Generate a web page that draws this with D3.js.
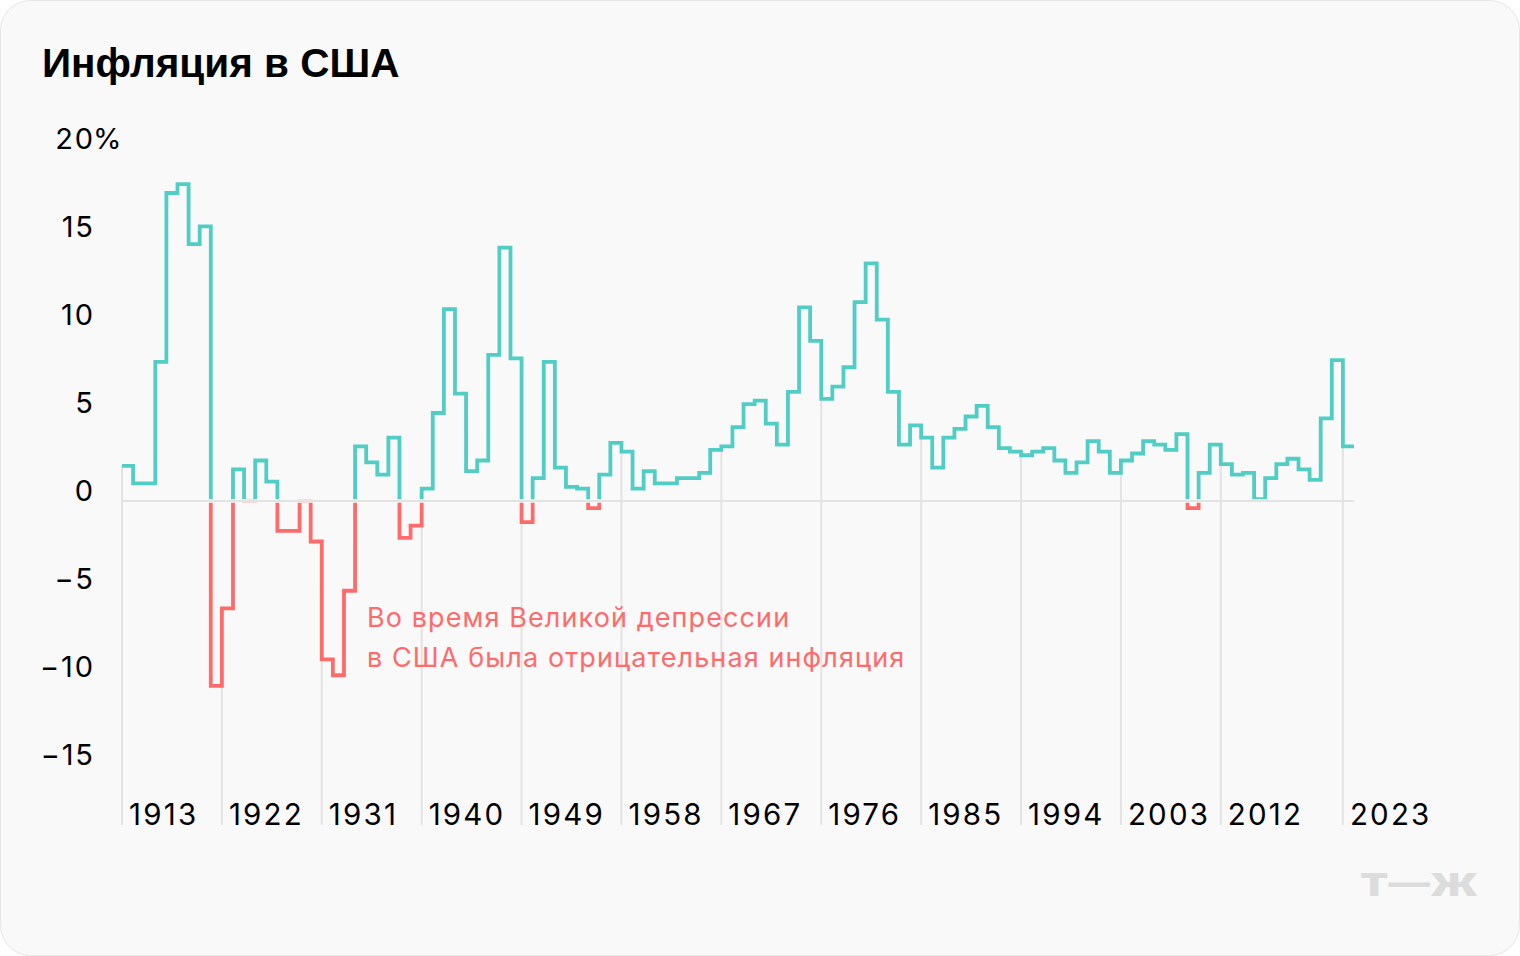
<!DOCTYPE html>
<html>
<head>
<meta charset="utf-8">
<script src="https://cdn.jsdelivr.net/npm/d3@7"></script>
<style>
  html, body { margin: 0; padding: 0; background: #ffffff; }
  svg { display: block; }
</style>
</head>
<body>
<svg id="chart" width="1520" height="956"></svg>
<script>
// Data: annual US inflation, %, starting 1913
const startYear = 1913;
const inflation = [
    2.0, 1.0, 1.0, 7.9, 17.5, 18.0, 14.6, 15.6, -10.5, -6.1,   // 1913-1922
    1.8, 0.0, 2.3, 1.1, -1.7, -1.7, 0.0, -2.3, -9.0, -9.9,     // 1923-1932
    -5.1, 3.1, 2.2, 1.5, 3.6, -2.1, -1.4, 0.7, 5.0, 10.9,      // 1933-1942
    6.1, 1.7, 2.3, 8.3, 14.4, 8.1, -1.2, 1.3, 7.9, 1.9,        // 1943-1952
    0.8, 0.7, -0.4, 1.5, 3.3, 2.8, 0.7, 1.7, 1.0, 1.0,         // 1953-1962
    1.3, 1.3, 1.6, 2.9, 3.1, 4.2, 5.5, 5.7, 4.4, 3.2,          // 1963-1972
    6.2, 11.0, 9.1, 5.8, 6.5, 7.6, 11.3, 13.5, 10.3, 6.2,      // 1973-1982
    3.2, 4.3, 3.6, 1.9, 3.6, 4.1, 4.8, 5.4, 4.2, 3.0,          // 1983-1992
    2.8, 2.6, 2.8, 3.0, 2.3, 1.6, 2.2, 3.4, 2.8, 1.6,          // 1993-2002
    2.3, 2.7, 3.4, 3.2, 2.9, 3.8, -0.4, 1.6, 3.2, 2.1,         // 2003-2012
    1.5, 1.6, 0.1, 1.3, 2.1, 2.4, 1.8, 1.2, 4.7, 8.0,          // 2013-2022
    3.1                                                        // 2023
];
const xTickYears = [1913, 1922, 1931, 1940, 1949, 1958, 1967, 1976, 1985, 1994, 2003, 2012, 2023];
const yTickValues = [20, 15, 10, 5, 0, -5, -10, -15];
const titleText = "Инфляция в США";
const noteLines = ["Во время Великой депрессии", "в США была отрицательная инфляция"];

const W = 1520, H = 956;
const posColor = "#50cdc4";
const negColor = "#ff6b6b";
const gridColor = "#e3e3e3";

const data = inflation.map((v, i) => ({ year: startYear + i, value: v }));
const lastYear = startYear + inflation.length - 1;

const svg = d3.select("#chart");

// Card background
svg.append("rect")
    .attr("x", 0.5).attr("y", 0.5)
    .attr("width", W - 1).attr("height", H - 1)
    .attr("rx", 30)
    .attr("fill", "#f9f9f9")
    .attr("stroke", "#e6e6e6");

// Scales
const x = d3.scaleLinear()
    .domain([startYear, lastYear + 1])
    .range([122, 1354]);
const y = d3.scaleLinear()
    .domain([-15, 20])
    .range([765, 149]);
const y0 = y(0);
const gridBottom = 825;

// Title
svg.append("text")
    .attr("x", 42).attr("y", 77)
    .attr("font-family", "'Liberation Sans', Arial, sans-serif")
    .attr("font-weight", 700)
    .attr("font-size", 40.5)
    .attr("fill", "#000")
    .text(titleText);

// Vertical gridlines: from the line down to the bottom
const valueOf = yr => data[yr - startYear] ? data[yr - startYear].value : null;
svg.append("g")
    .selectAll("line")
    .data(xTickYears)
    .join("line")
    .attr("x1", d => x(d)).attr("x2", d => x(d))
    .attr("y1", d => {
        const cur = valueOf(d);
        const prev = valueOf(d - 1);
        return y(prev === null ? cur : Math.min(prev, cur));
    })
    .attr("y2", gridBottom)
    .attr("stroke", gridColor)
    .attr("stroke-width", 2);

// Year labels
svg.append("g")
    .attr("font-family", "Inter, sans-serif")
    .attr("font-size", 29.5)
    .attr("letter-spacing", 2.2)
    .attr("fill", "#000")
    .selectAll("text")
    .data(xTickYears)
    .join("text")
    .attr("x", d => x(d) + 7)
    .attr("y", gridBottom)
    .text(d => d);

// Y labels
const fmt = d3.format("d");
const yLabels = svg.append("g")
    .attr("font-family", "Inter, sans-serif")
    .attr("font-size", 29)
    .attr("letter-spacing", 1.8)
    .attr("fill", "#000");
yLabels.selectAll("text")
    .data(yTickValues)
    .join("text")
    .attr("x", 94.8)
    .attr("y", d => y(d))
    .attr("text-anchor", "end")
    .text(d => fmt(d));
yLabels.append("text")
    .attr("x", 93)
    .attr("y", y(yTickValues[0]))
    .attr("letter-spacing", 0)
    .text("%");

// Clip regions above / below zero
const defs = svg.append("defs");
defs.append("clipPath").attr("id", "clipPos")
    .append("rect")
    .attr("x", 0).attr("y", 0)
    .attr("width", W).attr("height", y0 - 1.8);
defs.append("clipPath").attr("id", "clipNeg")
    .append("rect")
    .attr("x", 0).attr("y", y0 + 1.8)
    .attr("width", W).attr("height", H - y0);

// Step line
const stepPoints = data.concat([{ year: lastYear + 1, value: data[data.length - 1].value }]);
const line = d3.line()
    .x(d => x(d.year))
    .y(d => y(d.value))
    .curve(d3.curveStepAfter);

svg.append("path")
    .datum(stepPoints)
    .attr("d", line)
    .attr("fill", "none")
    .attr("stroke", posColor)
    .attr("stroke-width", 3.8)
    .attr("clip-path", "url(#clipPos)");

svg.append("path")
    .datum(stepPoints)
    .attr("d", line)
    .attr("fill", "none")
    .attr("stroke", negColor)
    .attr("stroke-width", 3.8)
    .attr("clip-path", "url(#clipNeg)");

// Zero line
svg.append("line")
    .attr("x1", x(startYear)).attr("x2", x(lastYear + 1))
    .attr("y1", y0).attr("y2", y0)
    .attr("stroke", gridColor)
    .attr("stroke-width", 2);

// Annotation
svg.append("g")
    .attr("font-family", "Inter, sans-serif")
    .attr("font-size", 27)
    .attr("letter-spacing", 1.1)
    .attr("fill", negColor)
    .selectAll("text")
    .data(noteLines)
    .join("text")
    .attr("x", 367)
    .attr("y", (d, i) => 627 + i * 39.5)
    .text(d => d);

// Logo
svg.append("text")
    .attr("x", 1360).attr("y", 896)
    .attr("font-family", "Inter, sans-serif")
    .attr("font-weight", 900)
    .attr("font-size", 31)
    .attr("textLength", 118)
    .attr("lengthAdjust", "spacingAndGlyphs")
    .attr("fill", "#dcdcdc")
    .text("Т—Ж");
</script>
</body>
</html>
